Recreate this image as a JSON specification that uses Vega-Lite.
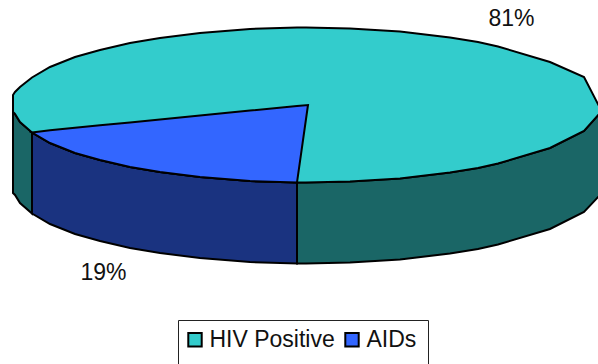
{
"$schema":"https://vega.github.io/schema/vega-lite/v6.json",
"width":598,"height":364,"padding":0,"autosize":{"type":"fit","contains":"padding"},
"background":"white","view":{"stroke":null},
"data":{"values":[
{"part":"wallLeft","x":13,"y":112,"y2":193},{"part":"wallLeft","x":15,"y":114,"y2":195},{"part":"wallLeft","x":20,"y":122,"y2":203},{"part":"wallLeft","x":32,"y":132.5,"y2":213.5},
{"part":"wallMid","x":32,"y":132.5,"y2":213.5},{"part":"wallMid","x":50,"y":143,"y2":224},{"part":"wallMid","x":75,"y":153,"y2":234},{"part":"wallMid","x":100,"y":160,"y2":241},{"part":"wallMid","x":130,"y":167,"y2":248},{"part":"wallMid","x":160,"y":172,"y2":253},{"part":"wallMid","x":200,"y":177,"y2":258},{"part":"wallMid","x":250,"y":181,"y2":262},{"part":"wallMid","x":297,"y":182.5,"y2":263.5},
{"part":"wallRight","x":297,"y":182.5,"y2":263.5},{"part":"wallRight","x":306,"y":182.5,"y2":263.5},{"part":"wallRight","x":350,"y":181.6,"y2":262.6},{"part":"wallRight","x":400,"y":178.4,"y2":259.4},{"part":"wallRight","x":450,"y":172.5,"y2":253.5},{"part":"wallRight","x":478,"y":168,"y2":249},{"part":"wallRight","x":498,"y":163.5,"y2":244.5},{"part":"wallRight","x":550,"y":148,"y2":229},{"part":"wallRight","x":584,"y":131,"y2":212},{"part":"wallRight","x":600,"y":113,"y2":195},
{"part":"face","series":"HIV Positive","x":13,"y":95,"y2":112},{"part":"face","series":"HIV Positive","x":15,"y":92,"y2":114},{"part":"face","series":"HIV Positive","x":20,"y":87,"y2":122},{"part":"face","series":"HIV Positive","x":32,"y":77.5,"y2":132.5},{"part":"face","series":"HIV Positive","x":50,"y":67,"y2":143},{"part":"face","series":"HIV Positive","x":75,"y":57,"y2":153},{"part":"face","series":"HIV Positive","x":100,"y":50,"y2":160},{"part":"face","series":"HIV Positive","x":130,"y":43,"y2":167},{"part":"face","series":"HIV Positive","x":160,"y":38,"y2":172},{"part":"face","series":"HIV Positive","x":200,"y":33,"y2":177},{"part":"face","series":"HIV Positive","x":250,"y":29,"y2":181},{"part":"face","series":"HIV Positive","x":297,"y":27.5,"y2":182.5},{"part":"face","series":"HIV Positive","x":306,"y":27.5,"y2":182.5},{"part":"face","series":"HIV Positive","x":350,"y":28.4,"y2":181.6},{"part":"face","series":"HIV Positive","x":400,"y":31.6,"y2":178.4},{"part":"face","series":"HIV Positive","x":450,"y":37.5,"y2":172.5},{"part":"face","series":"HIV Positive","x":478,"y":42,"y2":168},{"part":"face","series":"HIV Positive","x":498,"y":46.5,"y2":163.5},{"part":"face","series":"HIV Positive","x":550,"y":62,"y2":148},{"part":"face","series":"HIV Positive","x":584,"y":77,"y2":131},{"part":"face","series":"HIV Positive","x":600,"y":108,"y2":113},
{"part":"wedge","series":"AIDs","x":32,"y":132.5,"y2":132.5},{"part":"wedge","series":"AIDs","x":50,"y":130.2,"y2":143},{"part":"wedge","series":"AIDs","x":75,"y":127.8,"y2":153},{"part":"wedge","series":"AIDs","x":100,"y":125.3,"y2":160},{"part":"wedge","series":"AIDs","x":130,"y":122.4,"y2":167},{"part":"wedge","series":"AIDs","x":160,"y":119.4,"y2":172},{"part":"wedge","series":"AIDs","x":200,"y":115.5,"y2":177},{"part":"wedge","series":"AIDs","x":250,"y":110.6,"y2":181},{"part":"wedge","series":"AIDs","x":297,"y":106,"y2":182.5},{"part":"wedge","series":"AIDs","x":308,"y":105,"y2":105},
{"part":"label","x":511.5,"y":19,"label":"81%"},{"part":"label","x":103.5,"y":273,"label":"19%"},
{"part":"box","x":178.5,"x2":428.5,"y":320.5,"y2":372}
]},
"encoding":{
"x":{"field":"x","type":"quantitative","axis":null,"scale":{"domain":[0,598],"nice":false,"zero":false}},
"y":{"field":"y","type":"quantitative","axis":null,"scale":{"domain":[364,0],"nice":false,"zero":false}}
},
"layer":[
{"transform":[{"filter":"datum.part==='wallLeft'"}],"mark":{"type":"area","clip":true,"color":"#1A6666","stroke":"black","strokeWidth":2},"encoding":{"y2":{"field":"y2"}}},
{"transform":[{"filter":"datum.part==='wallRight'"}],"mark":{"type":"area","clip":true,"color":"#1A6666","stroke":"black","strokeWidth":2},"encoding":{"y2":{"field":"y2"}}},
{"transform":[{"filter":"datum.part==='wallMid'"}],"mark":{"type":"area","clip":true,"color":"#1A3380","stroke":"black","strokeWidth":2},"encoding":{"y2":{"field":"y2"}}},
{"transform":[{"filter":"datum.part==='box'"}],"mark":{"type":"rect","clip":true,"fill":"white","stroke":"#222222","strokeWidth":1},"encoding":{"x2":{"field":"x2"},"y2":{"field":"y2"}}},
{"transform":[{"filter":"datum.part==='face' || datum.part==='wedge'"}],"mark":{"type":"area","clip":true,"stroke":"black","strokeWidth":2},
"encoding":{"y2":{"field":"y2"},
"color":{"field":"series","type":"nominal","sort":["HIV Positive","AIDs"],"scale":{"domain":["HIV Positive","AIDs"],"range":["#33CCCC","#3366FF"]},
"legend":{"title":null,"orient":"none","legendX":176.5,"legendY":321,"direction":"horizontal","columns":2,"symbolType":"square","symbolSize":180,"symbolStrokeColor":"black","symbolStrokeWidth":2,"labelFont":"Liberation Sans","labelFontSize":23,"labelColor":"#111111","labelOffset":3,"columnPadding":5,"padding":7,"labelLimit":200}}}},
{"transform":[{"filter":"datum.part==='label'"}],"mark":{"type":"text","font":"Liberation Sans","fontSize":23,"color":"#111111","align":"center","baseline":"middle"},"encoding":{"text":{"field":"label"}}}
]
}
